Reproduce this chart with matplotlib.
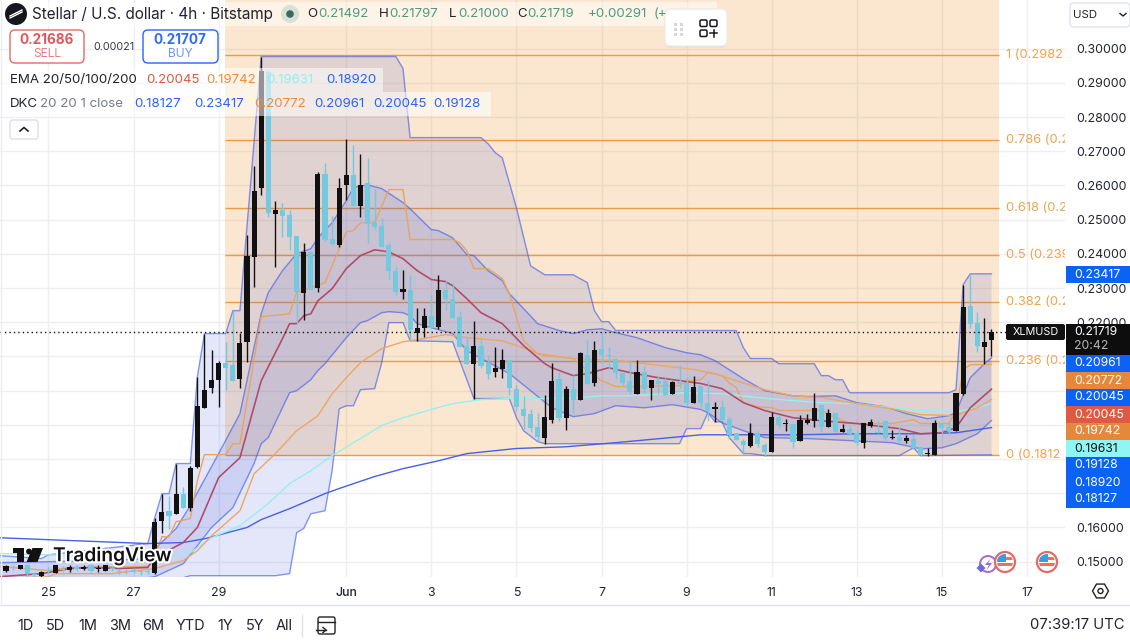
import numpy as np
import matplotlib
matplotlib.use('Agg')
import matplotlib.pyplot as plt
import matplotlib.patheffects as pe
from matplotlib.patches import FancyBboxPatch, Rectangle, Circle, Polygon, RegularPolygon

plt.rcParams['font.family'] = ['Inter', 'DejaVu Sans']

# 4h candles, index 0 is the 25th
candle_idx = np.arange(-6, 134)
opens = [.1474, .1482, .1480, .1489, .1463, .1457,
         .1474, .1468, .1480, .1477, .1483, .1480, .1489, .1479, .1474, .1482,
         .1472, .1472, .1474, .1470, .1472, .1466, .1618, .1648, .1638, .1698,
         .1656, .1776, .1950, .2007, .2030, .2082, .2076, .2033, .2141, .2392,
         .2594, .2933, .2518, .2529, .2515, .2453, .2287, .2406, .2301, .2635,
         .2445, .2427, .2600, .2632, .2541, .2606, .2491, .2483, .2427, .2351,
         .2290, .2295, .2170, .2184, .2219, .2187, .2295, .2269, .2216, .2132,
         .2079, .2132, .2082, .2056, .2064, .2091, .2006, .1947, .1933, .1895,
         .1863, .1915, .2035, .1921, .2006, .1974, .2103, .2023, .2123, .2103,
         .2094, .2053, .2029, .1991, .2056, .2009, .2029, .2029, .1991, .2029,
         .2023, .1965, .2015, .1965, .1945, .1953, .1918, .1877, .1854, .1839,
         .1877, .1842, .1822, .1924, .1903, .1904, .1854, .1906, .1912, .1959,
         .1895, .1936, .1880, .1889, .1877, .1848, .1898, .1878, .1912, .1863,
         .1866, .1854, .1860, .1836, .1815, .1813, .1906, .1895, .1883, .1991,
         .2249, .2199, .2129, .21492]
highs = [.1489, .1489, .1489, .1489, .1468, .1474,
         .1483, .1489, .1486, .1489, .1489, .1489, .1492, .1489, .1489, .1488,
         .1480, .1480, .1482, .1477, .1480, .1629, .1699, .1693, .1787, .1719,
         .1781, .2041, .2167, .2120, .2088, .2143, .2234, .2170, .2456, .2658,
         .2977, .2939, .2556, .2550, .2529, .2453, .2433, .2406, .2640, .2667,
         .2512, .2623, .2737, .2719, .2693, .2681, .2591, .2506, .2433, .2363,
         .2354, .2339, .2243, .2243, .2281, .2339, .2325, .2316, .2234, .2155,
         .2205, .2152, .2105, .2129, .2123, .2091, .2018, .1983, .1947, .1936,
         .1988, .2082, .2056, .2015, .2047, .2114, .2149, .2146, .2170, .2129,
         .2097, .2053, .2091, .2091, .2073, .2032, .2047, .2038, .2029, .2076,
         .2041, .2044, .2015, .2029, .1968, .1974, .1924, .1877, .1860, .1906,
         .1883, .1848, .1939, .1930, .1918, .1904, .1930, .1933, .1994, .1959,
         .1945, .1936, .1904, .1898, .1883, .1906, .1918, .1912, .1912, .1886,
         .1895, .1869, .1871, .1836, .1833, .1915, .1906, .1909, .1994, .2310,
         .2339, .2231, .2214, .21797]
lows = [.1471, .1477, .1480, .1456, .1456, .1453,
        .1465, .1468, .1471, .1471, .1474, .1477, .1471, .1471, .1474, .1474,
        .1465, .1465, .1468, .1462, .1465, .1465, .1585, .1597, .1638, .1658,
        .1649, .1775, .1950, .1994, .1953, .2003, .2029, .2009, .2085, .2304,
        .2573, .2509, .2363, .2450, .2412, .2196, .2208, .2295, .2290, .2439,
        .2427, .2421, .2559, .2541, .2509, .2433, .2474, .2421, .2328, .2281,
        .2269, .2146, .2146, .2158, .2184, .2181, .2237, .2214, .2129, .2079,
        .1977, .2067, .2035, .2041, .2038, .1988, .1942, .1889, .1880, .1854,
        .1845, .1906, .1912, .1886, .1936, .1974, .2021, .2015, .2079, .2064,
        .2038, .2018, .1991, .1991, .1994, .1974, .1991, .1988, .1991, .2009,
        .1959, .1965, .1953, .1912, .1909, .1915, .1860, .1857, .1813, .1836,
        .1836, .1810, .1822, .1892, .1883, .1833, .1854, .1904, .1895, .1880,
        .1895, .1880, .1880, .1871, .1842, .1833, .1895, .1876, .1857, .1860,
        .1848, .1848, .1830, .1810, .1810, .1813, .1871, .1874, .1883, .1988,
        .2184, .2114, .2079, .21000]
closes = [.1486, .1481, .1489, .1465, .1462, .1471,
          .1473, .1489, .1477, .1483, .1480, .1483, .1474, .1480, .1489, .1479,
          .1471, .1471, .1473, .1469, .1471, .1617, .1645, .1635, .1698, .1658,
          .1775, .1955, .2003, .2031, .2081, .2067, .2029, .2140, .2395, .2585,
          .2936, .2521, .2529, .2512, .2450, .2290, .2406, .2295, .2635, .2442,
          .2430, .2594, .2632, .2541, .2600, .2488, .2480, .2421, .2351, .2290,
          .2298, .2176, .2184, .2219, .2184, .2295, .2269, .2214, .2129, .2079,
          .2132, .2073, .2050, .2067, .2091, .2009, .1953, .1927, .1892, .1866,
          .1924, .2029, .1921, .2006, .1974, .2111, .2021, .2120, .2105, .2100,
          .2053, .2023, .1997, .2056, .2006, .2032, .2021, .1988, .2026, .2021,
          .1965, .2012, .1965, .1942, .1953, .1915, .1871, .1857, .1842, .1877,
          .1845, .1822, .1924, .1901, .1904, .1851, .1915, .1915, .1950, .1895,
          .1936, .1880, .1889, .1874, .1848, .1906, .1909, .1876, .1863, .1864,
          .1854, .1863, .1833, .1813, .1816, .1906, .1892, .1883, .1994, .2246,
          .2196, .2132, .2141, .21719]

# Donchian channel
dc_upper_x = [-7, -1, 0, 14, 15, 16, 17, 18, 20, 21, 22, 25, 26, 27, 30, 49, 50, 51, 61, 62, 63, 64, 66, 68, 70,
              74, 76, 77, 78, 79, 80, 97, 98, 99, 102, 103, 108, 109, 110, 111, 112, 113, 127, 128, 129, 130, 133]
dc_upper = [.1518, .1509, .1520, .1553, .1629, .1699, .1699, .1787, .1787, .2041, .2167, .2167, .2234, .2234,
            .2977, .2977, .2942, .2740, .2740, .2722, .2696, .2681, .2535, .2365, .2339,
            .2339, .2316, .2234, .2202, .2202, .2176, .2176, .2126, .2094, .2094, .2079, .2079, .2044, .2044,
            .2032, .2032, .1994, .1994, .2003, .2310, .23417, .23417]
dc_lower_x = [-7, 19, 20, 32, 34, 35, 36, 37, 39, 40, 41, 42, 43, 44, 46, 47, 48, 50, 51, 57, 60, 65, 66, 67, 69, 70,
              89, 90, 92, 93, 94, 95, 96, 98, 99, 101, 120, 122, 123, 133]
dc_lower = [.1453, .1453, .1459, .1459, .1465, .1585, .1597, .1640, .1649, .1766, .1947, .1956, .1956, .2003,
            .2006, .2082, .2199, .2199, .2146, .2143, .1977, .1977, .1921, .1883, .1851, .1845,
            .1845, .1889, .1889, .1936, .1909, .1909, .1863, .1816, .1816, .1810, .1810, .1833, .1810, .18127]
dc_basis_x = [-7, 0, 3, 14, 15, 16, 17, 18, 20, 21, 22, 25, 26, 27, 30, 34, 35, 39, 42, 43, 44, 46, 48, 50, 51, 57,
              58, 59, 60, 62, 64, 65, 67, 69, 74, 76, 78, 80, 83, 89, 90, 92, 93, 95, 96, 97, 98, 100, 102, 103,
              109, 111, 113, 119, 122, 123, 127, 128, 129, 130, 133]
dc_basis = [.1486, .1474, .1483, .1486, .1515, .1573, .1573, .1617, .1626, .1737, .1813, .1813, .1845, .1845,
            .2216, .2225, .2287, .2316, .2465, .2468, .2491, .2491, .2588, .2588, .2442, .2442,
            .2433, .2409, .2357, .2357, .2328, .2284, .2146, .2108, .2094, .2059, .2029, .2012, .2012, .2015,
            .2029, .2032, .2053, .2044, .2023, .2009, .1965, .1953, .1950, .1942,
            .1942, .1921, .1904, .1904, .1915, .1904, .1904, .1942, .2061, .2076, .20772]

# Keltner channel
kc_upper_x = [-7, 7, 14, 15, 18, 20, 24, 27, 30, 31, 33, 35, 37, 38, 40, 42, 43, 45, 47, 50, 51, 54, 55, 57, 59, 60,
              62, 64, 65, 69, 72, 74, 76, 78, 80, 83, 87, 90, 92, 94, 98, 101, 105, 107, 111, 114, 118, 121, 124,
              127, 128, 130, 132, 133]
kc_upper = [.1497, .1503, .1509, .1538, .1597, .1664, .1816, .1933, .2225, .2287, .2351, .2401, .2415, .2447,
            .2491, .2556, .2594, .2602, .2591, .2550, .2532, .2471, .2468, .2447, .2398, .2395,
            .2351, .2322, .2284, .2196, .2176, .2167, .2178, .2181, .2170, .2155, .2126, .2111, .2105, .2088,
            .2035, .2000, .1985, .1983, .1985, .1965, .1953, .1933, .1918, .1927, .1936, .2038, .2079, .20961]
kc_lower_x = [-7, 14, 15, 19, 23, 26, 29, 30, 31, 34, 35, 37, 38, 39, 42, 44, 45, 47, 48, 50, 51, 52, 53, 57, 59, 65,
              71, 74, 77, 80, 84, 88, 92, 93, 95, 98, 101, 107, 113, 119, 123, 126, 128, 131, 133]
kc_lower = [.1453, .1453, .1456, .1494, .1600, .1658, .1787, .1845, .1863, .1994, .2000, .2032, .2059, .2079,
            .2155, .2199, .2205, .2228, .2231, .2228, .2219, .2196, .2190, .2167, .2117, .2050,
            .1950, .1924, .1933, .1956, .1950, .1959, .1945, .1936, .1906, .1883, .1863, .1860, .1854, .1848,
            .1830, .1833, .1845, .1874, .19128]

# EMAs
ema20_x = [-7, -1, 3, 6, 10, 14, 15, 19, 21, 24, 27, 30, 33, 34, 35, 36, 37, 38, 40, 42, 44, 46, 48, 50, 52, 54, 56,
           57, 59, 61, 64, 67, 70, 71, 74, 76, 79, 82, 86, 92, 95, 98, 101, 105, 109, 114, 120, 123, 126, 128, 130, 133]
ema20 = [.1456, .1465, .1480, .1483, .1480, .1483, .1512, .1556, .1600, .1746, .1804, .2029, .2152, .2196, .2196,
         .2219, .2225, .2263, .2298, .2357, .2395, .2412, .2406, .2386, .2351, .2325, .2319,
         .2307, .2269, .2228, .2196, .2132, .2079, .2067, .2044, .2050, .2067, .2053, .2038, .2021, .2006, .1965,
         .1942, .1921, .1912, .1904, .1889, .1874, .1877, .1892, .1950, .20045]
ema50_x = [-7, 0, 1, 9, 15, 19, 21, 23, 27, 29, 32, 35, 37, 38, 40, 42, 44, 47, 50, 52, 56, 59, 64, 66, 68, 70, 74,
           80, 84, 89, 91, 94, 97, 101, 105, 109, 114, 119, 123, 128, 129, 131, 133]
ema50 = [.1450, .1456, .1465, .1465, .1480, .1503, .1532, .1576, .1649, .1757, .1816, .1883, .1912, .1927, .1991,
         .2038, .2082, .2123, .2143, .2149, .2164, .2155, .2146, .2132, .2117, .2102, .2094,
         .2088, .2079, .2067, .2062, .2050, .2029, .2003, .1985, .1980, .1962, .1947, .1930, .1927, .1936, .1950,
         .19742]
ema100_x = [-7, 14, 17, 20, 23, 27, 31, 34, 37, 40, 44, 47, 50, 54, 57, 61, 65, 70, 73, 78, 82, 90, 95, 100, 105,
            109, 114, 119, 123, 128, 131, 133]
ema100 = [.1524, .1512, .1518, .1526, .1570, .1605, .1670, .1728, .1766, .1810, .1860, .1898, .1921, .1945, .1962,
          .1974, .1977, .1977, .1977, .1985, .1985, .1994, .1991, .1980, .1971,
          .1965, .1962, .1950, .1942, .1939, .1950, .19631]
ema200_x = [-7, 14, 19, 22, 28, 30, 34, 39, 41, 46, 50, 55, 59, 66, 73, 80, 92, 95, 105, 114, 123, 128, 133]
ema200 = [.1570, .1553, .1556, .1567, .1600, .1623, .1655, .1699, .1714, .1749, .1772, .1795, .1816, .1831, .1836,
          .1848, .1871, .1871, .1871, .1874, .1874, .1877, .18920]

# Fibonacci retracement, labels run into the price scale and get cut there
fib_prices = [.29820, .27316, .25351, .23970, .22589, .20881, .18120]
fib_names = ['1 (0.2982', '0.786 (0.2', '0.618 (0.2', '0.5 (0.239', '0.382 (0.2', '0.236 (0.2', '0 (0.1812']

price_ticks = [.15, .16, .17, .18, .19, .20, .21, .22, .23, .24, .25, .26, .27, .28, .29, .30]
# .17 to .21 sit behind the stacked scale tags
price_labels = ['0.15000', '0.16000', '', '', '', '', '', '0.22000', '0.23000', '0.24000', '0.25000', '0.26000',
                '0.27000', '0.28000', '0.29000', '0.30000']
date_ticks = [0, 12, 24, 42, 54, 66, 78, 90, 102, 114, 126, 138]
date_labels = ['25', '27', '29', 'Jun', '3', '5', '7', '9', '11', '13', '15', '17']

# Scale tags
tag_values = ['0.20961', '0.20772', '0.20045', '0.20045', '0.19742', '0.19631', '0.19128', '0.18920', '0.18127']
tag_colors = ['#0a63f5', '#e5883c', '#0a63f5', '#de5a42', '#e5883c', '#8ff6f6', '#0a63f5', '#0a63f5', '#0a63f5']
range_buttons = ['1D', '5D', '1M', '3M', '6M', 'YTD', '1Y', '5Y', 'All']
range_x = [25, 55, 88, 120, 153, 190, 225, 255, 284]

BLUE = '#2962ff'
CANDLE_UP = '#111111'
CANDLE_DOWN = '#74c9de'
LINE_BLUE = '#4560ea'

fig = plt.figure(figsize=(11.3, 6.43), dpi=100, facecolor='white')
ax = fig.add_axes([0, 66 / 643, 1065 / 1130, 577 / 643])
ax.set_xlim(-6.84, 143.37)
ax.set_ylim(.14552, .31424)
ax.set_facecolor('white')

ax.set_xticks(date_ticks)
ax.set_xticklabels(date_labels)
ax.set_yticks(price_ticks)
ax.set_yticklabels(price_labels)
ax.yaxis.tick_right()
ax.tick_params(axis='both', length=0, labelsize=8.9, labelcolor='#1f2430')
ax.tick_params(axis='x', pad=7)
ax.tick_params(axis='y', pad=8)
ax.get_xticklabels()[3].set_fontweight('medium')
ax.grid(True, color='#edeff3', lw=1)
ax.set_axisbelow(True)
for side in ax.spines:
    ax.spines[side].set_visible(False)

# Fib background and levels
ax.fill_between([24.9, 134.1], fib_prices[-1], .31424, color='#ef9b38', alpha=0.24, lw=0, zorder=1)
ax.hlines(fib_prices, 24.9, 134.1, color='#ec9a45', lw=1, zorder=1.5)
for price, name in zip(fib_prices, fib_names):
    ax.text(135, price, name, color='#f0a44e', fontsize=9.3, va='center', ha='left', clip_on=True, zorder=2)

# Channel fills
ax.fill(np.r_[dc_upper_x, dc_lower_x[::-1]], np.r_[dc_upper, dc_lower[::-1]], color='#4a5fd8', alpha=0.15, lw=0, zorder=2)
ax.fill(np.r_[kc_upper_x, kc_lower_x[::-1]], np.r_[kc_upper, kc_lower[::-1]], color='#4a5fd8', alpha=0.15, lw=0, zorder=2)

# Channel edges and averages
ax.plot(dc_upper_x, dc_upper, color=LINE_BLUE, lw=1, alpha=0.65, zorder=3)
ax.plot(dc_lower_x, dc_lower, color=LINE_BLUE, lw=1, alpha=0.65, zorder=3)
ax.plot(kc_upper_x, kc_upper, color=LINE_BLUE, lw=1, alpha=0.65, zorder=3)
ax.plot(kc_lower_x, kc_lower, color=LINE_BLUE, lw=1, alpha=0.65, zorder=3)
ax.plot(dc_basis_x, dc_basis, color='#eba45f', lw=1, zorder=3)
ax.plot(ema200_x, ema200, color=LINE_BLUE, lw=1, zorder=3)
ax.plot(ema100_x, ema100, color='#96f0ec', lw=1, zorder=3)
ax.plot(ema50_x, ema50, color='#eda761', lw=1, zorder=3)
ax.plot(ema20_x, ema20, color='#b04a66', lw=1.15, zorder=3)

# Candles: wicks first, then bodies
opens_a, closes_a = np.array(opens), np.array(closes)
up = closes_a >= opens_a
colors = np.where(up, CANDLE_UP, CANDLE_DOWN)
ax.vlines(candle_idx, lows, highs, colors=colors, lw=1, zorder=4)
bottoms = np.minimum(opens_a, closes_a)
heights = np.maximum(np.abs(closes_a - opens_a), 0.0003)
ax.bar(candle_idx, heights, bottom=bottoms, width=0.72, color=colors, lw=0, zorder=4.5)

# Last price line
ax.axhline(closes[-1], color='#111111', lw=1, ls=(0, (1, 2.2)), zorder=5)

# Everything else is laid out in pixels on a full-figure overlay
ui = fig.add_axes([0, 0, 1, 1], facecolor='none')
ui.set_xlim(0, 1130)
ui.set_ylim(643, 0)
ui.axis('off')


def label(x, y, s, color='#1f2430', size=13.3, ha='left', weight='normal', **kw):
    return ui.text(x, y, s, color=color, fontsize=size * 0.72, ha=ha, va='center', fontweight=weight, **kw)


def box(x, y, w, h, face='white', edge='none', lw=1, radius=4, **kw):
    patch = FancyBboxPatch((x + radius, y + radius), w - 2 * radius, h - 2 * radius,
                           boxstyle=f'round,pad={radius},rounding_size={radius}',
                           facecolor=face, edgecolor=edge, lw=lw, **kw)
    ui.add_patch(patch)
    return patch


# Legend row backgrounds
ui.add_patch(Rectangle((0, 2), 717, 24, facecolor='white', alpha=0.5, lw=0))
ui.add_patch(Rectangle((0, 68), 383, 24, facecolor='white', alpha=0.55, lw=0))
ui.add_patch(Rectangle((0, 92), 491, 24, facecolor='white', alpha=0.55, lw=0))

# Symbol header
ui.add_patch(Circle((16, 14), 11, facecolor='#15171c', lw=0))
ui.plot([10, 22], [16, 10], color='white', lw=1)
ui.plot([10, 22], [18, 12], color='white', lw=1)
label(32, 14, 'Stellar / U.S. dollar · 4h · Bitstamp', size=15.3)
ui.add_patch(Circle((290, 14), 9, facecolor='#d6e2d8', lw=0))
ui.add_patch(Circle((290, 14), 3.8, facecolor='#3c6b5c', lw=0))
GREEN = '#4f9a84'
for x, s in [(307, 'O'), (379, 'H'), (449, 'L'), (517, 'C')]:
    label(x, 14, s)
for x, s in [(318, '0.21492'), (389, '0.21797'), (458, '0.21000'), (527, '0.21719'), (588, '+0.00291'), (654, '(+')]:
    label(x, 14, s, color=GREEN)

# Sell and buy buttons
box(10, 30, 74, 33, edge='#e06a6a', radius=5)
label(47, 40, '0.21686', color='#e0575b', size=13.5, ha='center', weight='bold')
label(47, 54, 'SELL', color='#e57f80', size=12, ha='center')
label(93, 47, '0.00021', color='#333a45', size=10.8)
box(143, 30, 75, 33, edge=BLUE, radius=5)
label(180, 40, '0.21707', color='#2f6bf0', size=13.5, ha='center', weight='bold')
label(180, 54, 'BUY', color='#6f97f5', size=12, ha='center')

# Indicator legends
label(10, 80, 'EMA 20/50/100/200')
for x, s, c in [(146, '0.20045', '#e0573f'), (206, '0.19742', '#ee8c3c'), (266, '0.19631', '#8ff0f0'), (326, '0.18920', BLUE)]:
    label(x, 80, s, color=c)
label(10, 104, 'DKC')
label(40, 104, '20 20 1 close', color='#777c86')
for x, s, c in [(134, '0.18127', BLUE), (194, '0.23417', BLUE), (254, '0.20772', '#ee8c3c'),
                (314, '0.20961', BLUE), (373, '0.20045', BLUE), (433, '0.19128', BLUE)]:
    label(x, 104, s, color=c)
box(10, 120, 28, 19, edge='#dcdfe4', radius=3)
ui.plot([20, 24, 28], [131, 127.5, 131], color='#222222', lw=1.2)

# Floating toolbar
box(665, 9, 62, 37, edge='#ececec', radius=6, path_effects=[pe.withSimplePatchShadow(offset=(0, -1), alpha=0.1)])
for dx in (674, 680):
    for dy in (23, 28, 33):
        ui.add_patch(Rectangle((dx, dy), 3, 3, facecolor='#d5d7db', lw=0))
for bx, by in [(700, 20), (710, 20), (700, 30)]:
    box(bx, by, 7, 6.5, face='none', edge='#15171c', lw=1.1, radius=1.5)
ui.plot([710, 717], [33, 33], color='#15171c', lw=1.1)
ui.plot([713.5, 713.5], [30, 36.5], color='#15171c', lw=1.1)

# TradingView mark
ui.add_patch(Polygon([(12.5, 548), (24, 548), (24, 562), (17, 562), (17, 552.5), (12.5, 552.5)],
                     facecolor='#111111', lw=0))
ui.add_patch(Circle((29, 551.5), 2.9, facecolor='#111111', lw=0))
ui.add_patch(Polygon([(32.5, 548), (43, 548), (37.5, 562), (26.5, 562)], facecolor='#111111', lw=0))
label(53, 556, 'TradingView', color='#111111', size=19.2, weight='semibold',
      path_effects=[pe.withStroke(linewidth=3, foreground='white')])

# Price scale tags
box(1070, 3, 60, 24, edge='#e0e3eb', radius=4)
label(1073, 14.5, 'USD', size=11.5)
ui.plot([1120, 1123, 1126], [13.5, 16, 13.5], color='#222222', lw=1)
ui.add_patch(Rectangle((1066, 266), 64, 17, facecolor='#0a63f5', lw=0))
label(1074, 274.5, '0.23417', color='white', size=12.2)
box(1006, 324, 59, 16, face='#111111', radius=2)
label(1035.5, 332, 'XLMUSD', color='white', size=10.8, ha='center')
ui.add_patch(Rectangle((1066, 324), 64, 31, facecolor='#0d0d0d', lw=0))
label(1074, 332, '0.21719', color='white', size=12.2)
label(1074, 346, '20:42', color='#b8b8b8', size=12.2)
for n, (value, color) in enumerate(zip(tag_values, tag_colors)):
    top = 355 + 17 * n
    ui.add_patch(Rectangle((1066, top), 64, 17, facecolor=color, lw=0))
    label(1074, top + 8.5, value, color='#111111' if color == '#8ff6f6' else 'white', size=12.2)

# Economic event icons
ui.add_patch(Circle((988, 564), 8, facecolor='none', edgecolor='#a56ad0', lw=1.4))
ui.add_patch(Polygon([(991, 558), (985, 565), (989, 565), (986, 571), (992, 563), (988, 563)], facecolor='#9a6ad0', lw=0))
ui.add_patch(RegularPolygon((981, 568), 4, radius=4.5, facecolor='#6a6ae0', lw=0))
for cx in (1005, 1047):
    disc = Circle((cx, 562), 10, facecolor='white', edgecolor='#e46a6a', lw=1.6, zorder=6)
    ui.add_patch(disc)
    clip = Circle((cx, 562), 8, transform=ui.transData)
    for rect in [Rectangle((cx - 8, 557), 16, 3, facecolor='#ef6f5f', lw=0, zorder=7),
                 Rectangle((cx - 8, 563), 16, 3, facecolor='#ef6f5f', lw=0, zorder=7),
                 Rectangle((cx - 8, 554), 8.5, 8, facecolor='#3f9ae0', lw=0, zorder=8)]:
        ui.add_patch(rect)
        rect.set_clip_path(clip)

# Bottom toolbar
ui.plot([0, 1130], [605, 605], color='#e0e3eb', lw=1)
ui.plot([0.5, 0.5], [0, 605], color='#eceef2', lw=1)
for x, s in zip(range_x, range_buttons):
    label(x, 626, s, size=14.5, ha='center')
ui.plot([302, 302], [615, 636], color='#e0e3eb', lw=1)
box(318, 617, 17, 17, face='none', edge='#222222', lw=1, radius=2)
ui.plot([318, 335], [622, 622], color='#222222', lw=1)
ui.plot([316, 326], [630, 630], color='#222222', lw=1)
ui.plot([323, 326, 323], [627.5, 630, 632.5], color='#222222', lw=1)
label(1125, 625, '07:39:17 UTC', size=14.8, ha='right')
ui.add_patch(RegularPolygon((1100.5, 591), 6, radius=8, orientation=np.pi / 2, facecolor='white', edgecolor='#222222', lw=1))
ui.add_patch(Circle((1100.5, 591), 2.5, facecolor='white', edgecolor='#222222', lw=1))

fig.savefig('out.png', dpi=100)
